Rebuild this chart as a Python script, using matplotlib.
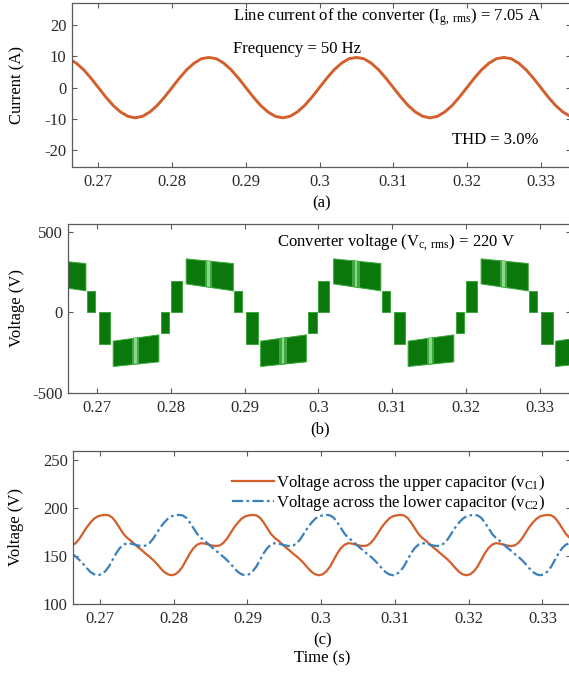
import numpy as np
import matplotlib
matplotlib.use("Agg")
import matplotlib.pyplot as plt

plt.rcParams["font.family"] = ["Liberation Serif", "DejaVu Serif"]
plt.rcParams["mathtext.fontset"] = "custom"
plt.rcParams["mathtext.rm"] = "Liberation Serif"
plt.rcParams["mathtext.it"] = "Liberation Serif:italic"
plt.rcParams["font.size"] = 12
plt.rcParams["axes.unicode_minus"] = False

# ---- (a) line current, one sample per ms from 0.266 s to 0.334 s
t_cur = np.linspace(0.266, 0.334, 69)
i_line = [
    9.2, 7.8, 5.7, 3.0, 0.0, -3.0, -5.7, -7.8, -9.2, -9.7,
    -9.2, -7.8, -5.7, -3.0, 0.0, 3.0, 5.7, 7.8, 9.2, 9.6,
    9.2, 7.8, 5.7, 3.0, 0.0, -3.0, -5.7, -7.8, -9.2, -9.7,
    -9.2, -7.8, -5.7, -3.0, 0.0, 3.0, 5.7, 7.8, 9.2, 9.6,
    9.2, 7.8, 5.7, 3.0, 0.0, -3.0, -5.7, -7.8, -9.2, -9.7,
    -9.2, -7.8, -5.7, -3.0, 0.0, 3.0, 5.7, 7.8, 9.2, 9.6,
    9.2, 7.8, 5.7, 3.0, 0.0, -3.0, -5.7, -7.8, -9.2,
]

# ---- (b) converter voltage: densely switched PWM blocks (start/end time,
# upper level at start/end, lower level at start/end)
blk_t0 = [0.2620, 0.2686, 0.2702, 0.2721, 0.2786,
          0.2800, 0.2820, 0.2886, 0.2902, 0.2921, 0.2986,
          0.3000, 0.3020, 0.3086, 0.3102, 0.3121, 0.3186,
          0.3200, 0.3220, 0.3286, 0.3302, 0.3321]
blk_t1 = [0.2684, 0.2697, 0.2718, 0.2783, 0.2798,
          0.2815, 0.2884, 0.2897, 0.2918, 0.2983, 0.2998,
          0.3015, 0.3084, 0.3097, 0.3118, 0.3183, 0.3198,
          0.3215, 0.3284, 0.3297, 0.3318, 0.3383]
blk_hi0 = [336, 132, 0, -176, 0,
           193, 336, 132, 0, -176, 0,
           193, 336, 132, 0, -176, 0,
           193, 336, 132, 0, -176]
blk_hi1 = [307, 132, 0, -137, 0,
           193, 307, 132, 0, -137, 0,
           193, 307, 132, 0, -137, 0,
           193, 307, 132, 0, -137]
blk_lo0 = [180, 0, -195, -334, -130,
           0, 180, 0, -195, -334, -130,
           0, 180, 0, -195, -334, -130,
           0, 180, 0, -195, -334]
blk_lo1 = [137, 0, -195, -305, -130,
           0, 137, 0, -195, -305, -130,
           0, 137, 0, -195, -305, -130,
           0, 137, 0, -195, -305]
# lighter band inside the long blocks
stripe_t0 = [0.2646, 0.2747, 0.2846, 0.2947, 0.3046, 0.3147, 0.3246]
stripe_t1 = [0.2656, 0.2757, 0.2856, 0.2957, 0.3056, 0.3157, 0.3256]
stripe_blk = [0, 3, 6, 9, 12, 15, 18]

# ---- (c) capacitor voltages, one sample per 0.5 ms from 0.2662 s
t_cap = np.linspace(0.2662, 0.3342, 137)
v_c1 = [
    161, 163.5, 168, 174, 180, 185, 189, 191.5, 192.5,
    193, 192.5, 190, 185, 179, 173, 169, 166, 162.5, 159,
    156, 152.5, 149.5, 146, 142, 137.5, 133.5, 131, 130, 131,
    134, 139, 146, 153, 158.5, 162, 163.5, 163, 162, 161,
    160.5, 161, 163.5, 168, 174, 180, 185, 189, 191.5, 192.5,
    193, 192.5, 190, 185, 179, 173, 169, 166, 162.5, 159,
    156, 152.5, 149.5, 146, 142, 137.5, 133.5, 131, 130, 131,
    134, 139, 146, 153, 158.5, 162, 163.5, 163, 162, 161,
    160.5, 161, 163.5, 168, 174, 180, 185, 189, 191.5, 192.5,
    193, 192.5, 190, 185, 179, 173, 169, 166, 162.5, 159,
    156, 152.5, 149.5, 146, 142, 137.5, 133.5, 131, 130, 131,
    134, 139, 146, 153, 158.5, 162, 163.5, 163, 162, 161,
    160.5, 161, 163.5, 168, 174, 180, 185, 189, 191.5, 192.5,
    193, 192.5, 190, 185, 179, 173, 169, 166,
]
v_c2 = [
    152.5, 149.5, 146, 142, 137.5, 133.5, 131, 130, 131,
    134, 139, 146, 153, 158.5, 162, 163.5, 163, 162, 161,
    160.5, 161, 163.5, 168, 174, 180, 185, 189, 191.5, 192.5,
    193, 192.5, 190, 185, 179, 173, 169, 166, 162.5, 159,
    156, 152.5, 149.5, 146, 142, 137.5, 133.5, 131, 130, 131,
    134, 139, 146, 153, 158.5, 162, 163.5, 163, 162, 161,
    160.5, 161, 163.5, 168, 174, 180, 185, 189, 191.5, 192.5,
    193, 192.5, 190, 185, 179, 173, 169, 166, 162.5, 159,
    156, 152.5, 149.5, 146, 142, 137.5, 133.5, 131, 130, 131,
    134, 139, 146, 153, 158.5, 162, 163.5, 163, 162, 161,
    160.5, 161, 163.5, 168, 174, 180, 185, 189, 191.5, 192.5,
    193, 192.5, 190, 185, 179, 173, 169, 166, 162.5, 159,
    156, 152.5, 149.5, 146, 142, 137.5, 133.5, 131, 130, 131,
    134, 139, 146, 153, 158.5, 162, 163.5, 163,
]

xticks = [0.27, 0.28, 0.29, 0.30, 0.31, 0.32, 0.33]
xtick_labels = ["0.27", "0.28", "0.29", "0.3", "0.31", "0.32", "0.33"]

ORANGE = "#d25f2c"
BLUE = "#3a80bd"
GREEN = "#0a780a"
AXC = "#5a5a5a"


def style(ax, xlim):
    for s in ax.spines.values():
        s.set_color(AXC)
        s.set_linewidth(0.9)
    ax.tick_params(direction="in", top=True, right=True, length=3.5,
                   width=0.8, color=AXC, labelsize=12, labelcolor="#2b2b2b")
    ax.tick_params(axis="x", pad=5)
    ax.tick_params(axis="y", pad=4)
    ax.set_xticks(xticks)
    ax.set_xticklabels(xtick_labels)
    ax.set_xlim(*xlim)


fig = plt.figure(figsize=(5.69, 6.79), dpi=100)

# (a)
ax1 = fig.add_axes([0.12654, 0.75449, 0.87698, 0.24065])
ax1.plot(t_cur, i_line, color=ORANGE, lw=2.1)
style(ax1, (0.26643, 0.33411))
ax1.set_ylim(-25.3, 26.9)
ax1.set_yticks([-20, -10, 0, 10, 20])
ax1.set_ylabel("Current (A)")
ax1.yaxis.set_label_coords(-0.094, 0.5)
ax1.set_xlabel("(a)", labelpad=4)
ax1.text(0.28823, 22.4, r"Line current of the converter (I$_{\rm g,\ rms}$) = 7.05 A",
         va="center", ha="left")
ax1.text(0.28823, 12.3, "Frequency = 50 Hz", va="center", ha="left")
ax1.text(0.31797, -16.8, "THD = 3.0%", va="center", ha="left")

# (b)
ax2 = fig.add_axes([0.12004, 0.42165, 0.88348, 0.24845])
for k in range(len(blk_t0)):
    poly = ax2.fill_between([blk_t0[k], blk_t1[k]], [blk_lo0[k], blk_lo1[k]],
                            [blk_hi0[k], blk_hi1[k]], facecolor=GREEN,
                            edgecolor="#3aa83a", lw=0.7)
    if k in stripe_blk:
        j = stripe_blk.index(k)
        path = poly.get_paths()[0]
        band = ax2.axvspan(stripe_t0[j], stripe_t1[j], color="#3fa83f", lw=0)
        band.set_clip_path(path, ax2.transData)
        mid = 0.5 * (stripe_t0[j] + stripe_t1[j])
        core = ax2.axvspan(mid - 0.00015, mid + 0.00015, color="#8fd68f", lw=0)
        core.set_clip_path(path, ax2.transData)
style(ax2, (0.26608, 0.33426))
ax2.set_ylim(-500, 550)
ax2.set_yticks([-500, 0, 500])
ax2.set_ylabel("Voltage (V)")
ax2.yaxis.set_label_coords(-0.086, 0.5)
ax2.set_xlabel("(b)", labelpad=4)
ax2.text(0.29439, 433, r"Converter voltage (V$_{\rm c,\ rms}$) = 220 V",
         va="center", ha="left")

# (c)
ax3 = fig.add_axes([0.12882, 0.11046, 0.87469, 0.22577])
ax3.plot(t_cap, v_c1, color=ORANGE, lw=1.6,
         label=r"Voltage across the upper capacitor (v$_{\rm C1}$)")
ax3.plot(t_cap, v_c2, color=BLUE, lw=1.6, linestyle=(0, (5, 1.5, 1.2, 1.5)),
         label=r"Voltage across the lower capacitor (v$_{\rm C2}$)")
style(ax3, (0.26638, 0.33388))
ax3.set_ylim(100, 260)
ax3.set_yticks([100, 150, 200, 250])
ax3.set_ylabel("Voltage (V)")
ax3.yaxis.set_label_coords(-0.099, 0.5)
ax3.set_xlabel("(c)\nTime (s)", labelpad=4, linespacing=1.15)
ax3.legend(loc="upper left", bbox_to_anchor=(0.319, 0.855), frameon=False,
           borderpad=0, borderaxespad=0, handlelength=2.5, handletextpad=0.15,
           labelspacing=0.02, fontsize=12)

fig.savefig("out.png", dpi=100)
